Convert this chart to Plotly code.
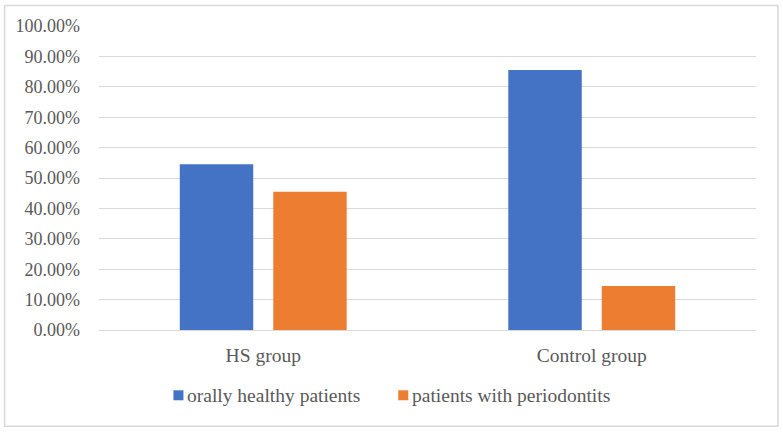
import plotly.graph_objects as go

categories = ["HS group", "Control group"]
series_names = ["orally healthy patients", "patients with periodontits"]
healthy = [0.545, 0.855]
periodontitis = [0.455, 0.145]
tick_vals = [0, 0.1, 0.2, 0.3, 0.4, 0.5, 0.6, 0.7, 0.8, 0.9, 1.0]
tick_text = ["0.00%", "10.00%", "20.00%", "30.00%", "40.00%", "50.00%",
             "60.00%", "70.00%", "80.00%", "90.00%", "100.00%"]
colors = ["#4472C4", "#ED7D31"]

W, H = 783, 433
FONT = "Liberation Serif"
FS = 18
FS_TXT = 19.5
TXT = "#595959"

fig = go.Figure()
for name, vals, col in zip(series_names, [healthy, periodontitis], colors):
    fig.add_trace(go.Bar(x=categories, y=vals, name=name, showlegend=False,
                         marker=dict(color=col, line=dict(width=0))))

pl, pr, pt, pb = 98.5, 756, 25.5, 330.5


def px_x(x):
    return (x - pl) / (pr - pl)


def px_y(y):
    return (pb - y) / (pb - pt)


# manual legend (Excel style: small square, text right next to it)
legend_sq_x = [173, 398]
shapes = [dict(type="rect", xref="paper", yref="paper",
               x0=px_x(4), x1=px_x(778), y0=px_y(427), y1=px_y(5),
               line=dict(color="#d9d9d9", width=1.5),
               fillcolor="rgba(0,0,0,0)", layer="below")]
annotations = []
for sx, name, col in zip(legend_sq_x, series_names, colors):
    shapes.append(dict(type="rect", xref="paper", yref="paper",
                       x0=px_x(sx), x1=px_x(sx + 10), y0=px_y(401), y1=px_y(391),
                       line=dict(width=0), fillcolor=col))
    annotations.append(dict(text=name, xref="paper", yref="paper",
                            x=px_x(sx + 12), y=px_y(396), xanchor="left",
                            yanchor="middle", showarrow=False,
                            font=dict(family=FONT, size=FS_TXT, color=TXT)))

fig.update_layout(
    width=W, height=H,
    margin=dict(l=pl, r=W - pr, t=pt, b=H - pb, autoexpand=False),
    paper_bgcolor="white", plot_bgcolor="white",
    barmode="group", bargap=0.431, bargroupgap=0.214,
    font=dict(family=FONT, size=FS, color=TXT),
    xaxis=dict(showgrid=False, showline=True, linecolor="#d9d9d9", linewidth=1,
               ticks="", tickfont=dict(family=FONT, size=FS_TXT, color=TXT),
               ticklabelstandoff=8, zeroline=False),
    yaxis=dict(range=[0, 1], tickvals=tick_vals, ticktext=tick_text,
               showgrid=True, gridcolor="#d9d9d9", gridwidth=1,
               zeroline=False, showline=False, ticks="",
               ticklabelstandoff=18,
               tickfont=dict(family=FONT, size=FS, color=TXT)),
    shapes=shapes,
    annotations=annotations,
)
fig.write_html("out.html", config={"displayModeBar": False},
               post_script="document.body.style.margin='0';document.body.style.padding='0';")
